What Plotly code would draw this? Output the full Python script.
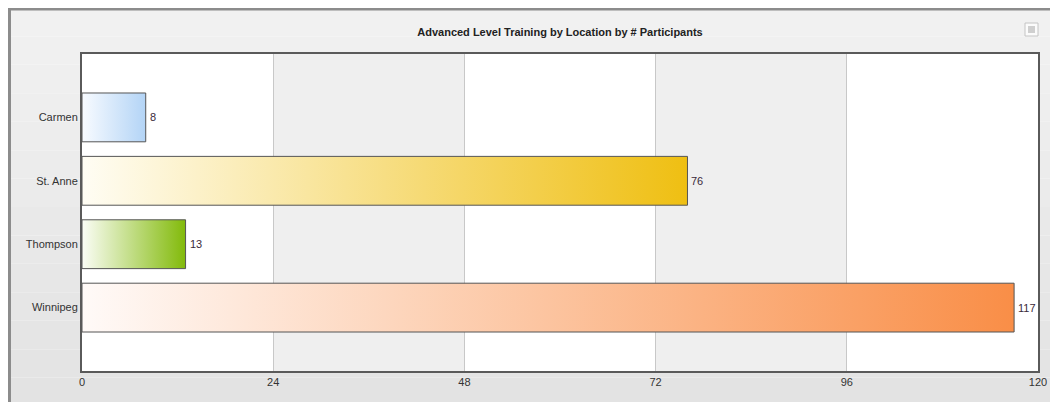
import plotly.graph_objects as go

locations = ["Carmen", "St. Anne", "Thompson", "Winnipeg"]
participants = [8, 76, 13, 117]
end_colors = ["#b3d4f6", "#efbf12", "#82ba0a", "#f98e47"]
start_colors = ["#f8fbff", "#fffdf4", "#fbfdf6", "#fffaf8"]
x_ticks = [0, 24, 48, 72, 96, 120]

# the page body has an 8px margin, so the figure sits at (8, 8) in the window
OFF = 8
W, H = 1050, 394
L, R, T, B = 74, 20, 46, 31
PW, PH = W - L - R, H - T - B
BAR_W = 0.77


def px(x):
    return (x - OFF - L) / PW


def py(y):
    return 1 - (y - OFF - T) / PH


fig = go.Figure()

# bars with horizontal gradient, drawn as filled shapes in data coords
for i, (loc, val) in enumerate(zip(locations, participants)):
    y0, y1 = i - BAR_W / 2, i + BAR_W / 2
    fig.add_trace(
        go.Scatter(
            x=[0, val, val, 0, 0],
            y=[y0, y0, y1, y1, y0],
            mode="lines",
            fill="toself",
            fillgradient={
                "type": "horizontal",
                "colorscale": [[0, start_colors[i]], [1, end_colors[i]]],
            },
            line={"color": "#555555", "width": 1},
            hoverinfo="skip",
            showlegend=False,
        )
    )

annotations = [
    dict(x=val, y=i, xref="x", yref="y", text=str(val), showarrow=False,
         xanchor="left", yanchor="middle", xshift=2,
         font={"family": "Liberation Sans, Arial", "size": 11, "color": "#3a2a3a"})
    for i, val in enumerate(participants)
]

shapes = []
# outer panel with a fake vertical gradient
bands = 14
top, bottom = OFF, 402 + 4
for k in range(bands):
    t = k / (bands - 1)
    c = int(round(0xf1 - t * (0xf1 - 0xe3)))
    shapes.append(
        dict(type="rect", xref="paper", yref="paper", layer="below",
             x0=px(9), x1=px(1053),
             y0=py(top + k * (bottom - top) / bands),
             y1=py(top + (k + 1) * (bottom - top) / bands),
             fillcolor=f"rgb({c},{c},{c})", line={"width": 0})
    )
# panel border
shapes.append(
    dict(type="rect", xref="paper", yref="paper", layer="below",
         x0=px(9.5), x1=px(1053), y0=py(410), y1=py(9),
         fillcolor="rgba(0,0,0,0)", line={"color": "#8c8c8c", "width": 3})
)
# white plot area, then alternate grey column bands
shapes.append(
    dict(type="rect", xref="paper", yref="paper", layer="below",
         x0=0, x1=1, y0=0, y1=1, fillcolor="white", line={"width": 0})
)
for a, b in [(24, 48), (72, 96)]:
    shapes.append(
        dict(type="rect", xref="x", yref="paper", layer="below",
             x0=a, x1=b, y0=0, y1=1, fillcolor="#efefef", line={"width": 0})
    )
# minimise button
shapes.append(dict(type="rect", xref="paper", yref="paper",
                   x0=px(1025), x1=px(1038), y0=py(36), y1=py(23),
                   fillcolor="#fbfbfb", line={"color": "#c4c4c4", "width": 1}))
shapes.append(dict(type="rect", xref="paper", yref="paper",
                   x0=px(1028), x1=px(1035), y0=py(33), y1=py(26),
                   fillcolor="#cfcfcf", line={"width": 0}))

fig.update_layout(
    width=W,
    height=H,
    margin={"l": L, "r": R, "t": T, "b": B},
    paper_bgcolor="white",
    plot_bgcolor="white",
    shapes=shapes,
    annotations=annotations,
    title={
        "text": "<b>Advanced Level Training by Location by # Participants</b>",
        "x": px(560),
        "xanchor": "center",
        "xref": "paper",
        "y": 1 - (32 - OFF) / H,
        "yanchor": "middle",
        "font": {"family": "Liberation Sans, Arial", "size": 11, "color": "#222222"},
    },
    font={"family": "Liberation Sans, Arial", "size": 11, "color": "#333333"},
)
fig.update_xaxes(
    range=[0, 120],
    tickvals=x_ticks,
    ticktext=[str(t) for t in x_ticks],
    showgrid=True,
    gridcolor="#c8c8c8",
    gridwidth=1,
    zeroline=False,
    showline=True,
    linecolor="#5a5a5a",
    linewidth=2,
    mirror=True,
    ticks="",
    ticklabelstandoff=0,
    tickfont={"size": 11, "color": "#333333"},
)
fig.update_yaxes(
    range=[len(locations), -1],
    tickvals=list(range(len(locations))),
    ticktext=locations,
    showgrid=False,
    zeroline=False,
    showline=True,
    linecolor="#5a5a5a",
    linewidth=2,
    mirror=True,
    ticks="",
    ticklabelstandoff=0,
    tickfont={"size": 11, "color": "#333333"},
)

fig.write_html("out.html")
